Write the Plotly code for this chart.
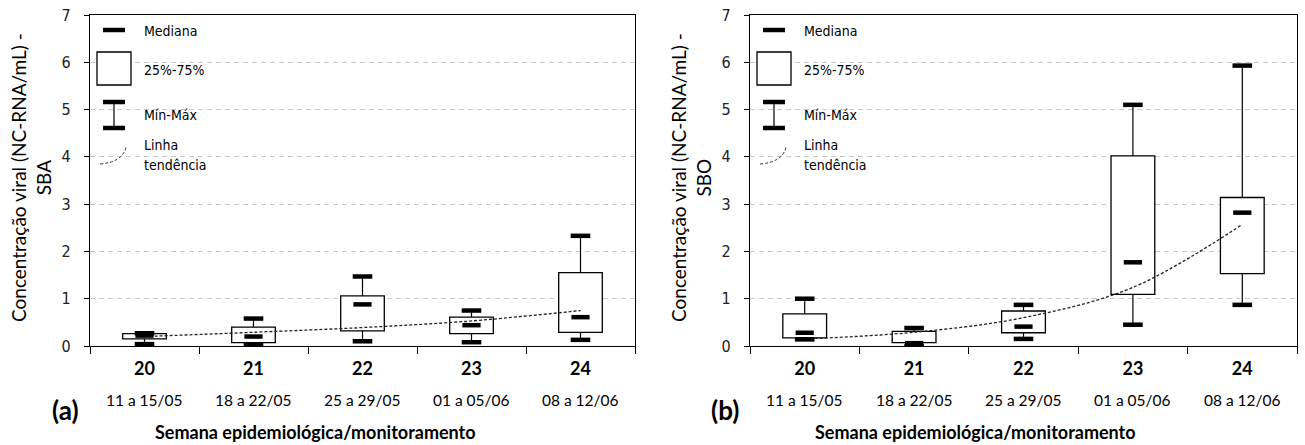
import plotly.graph_objects as go

# ---------------- data ----------------
weeks = ["20", "21", "22", "23", "24"]
periods = ["11 a 15/05", "18 a 22/05", "25 a 29/05", "01 a 05/06", "08 a 12/06"]

# (a) SBA
sba_min = [0.04, 0.02, 0.10, 0.08, 0.13]
sba_q1 = [0.15, 0.07, 0.32, 0.26, 0.29]
sba_med = [0.22, 0.20, 0.88, 0.44, 0.61]
sba_q3 = [0.26, 0.40, 1.06, 0.61, 1.55]
sba_max = [0.27, 0.58, 1.47, 0.75, 2.33]
sba_trend = [0.20, 0.29, 0.39, 0.53, 0.75]

# (b) SBO
sbo_min = [0.14, 0.00, 0.15, 0.45, 0.87]
sbo_q1 = [0.17, 0.07, 0.28, 1.09, 1.53]
sbo_med = [0.28, 0.06, 0.41, 1.77, 2.82]
sbo_q3 = [0.68, 0.31, 0.74, 4.02, 3.14]
sbo_max = [1.00, 0.38, 0.87, 5.10, 5.93]
sbo_trend = [0.15, 0.29, 0.60, 1.24, 2.57]

y_titles = ["Concentração viral (NC-RNA/mL) -<br>SBA", "Concentração viral (NC-RNA/mL) -<br>SBO"]
panel_tags = ["(a)", "(b)"]
x_title = "Semana epidemiológica/monitoramento"
legend_labels = ["Mediana", "25%-75%", "Mín-Máx", "Linha", "tendência"]

# ---------------- layout geometry (pixels) ----------------
W, H = 1305, 445
TOP, BOTTOM = 15, 346
PH = BOTTOM - TOP
panels_px = [(90, 635), (750, 1297)]

CAL = "Lato, 'Open Sans', sans-serif"
NARROW = "'DejaVu Sans Condensed', 'Liberation Sans Narrow', sans-serif"

def px(xp):
    return xp / W

def py(yp):
    return (BOTTOM - yp) / PH

fig = go.Figure()

datasets = [
    (sba_min, sba_q1, sba_med, sba_q3, sba_max, sba_trend),
    (sbo_min, sbo_q1, sbo_med, sbo_q3, sbo_max, sbo_trend),
]

for k, (mn, q1, md, q3, mx, tr) in enumerate(datasets):
    xa = "x" if k == 0 else "x2"
    ya = "y" if k == 0 else "y2"
    # box (25%-75%)
    fig.add_trace(go.Bar(
        x=weeks, base=q1, y=[b - a for a, b in zip(q1, q3)], width=0.4,
        marker=dict(color="white", line=dict(color="black", width=1.3)),
        xaxis=xa, yaxis=ya, showlegend=False, hoverinfo="skip"))
    # whiskers
    wx, wy = [], []
    for i, w in enumerate(weeks):
        wx += [w, w, None, w, w, None]
        wy += [mn[i], q1[i], None, q3[i], mx[i], None]
    fig.add_trace(go.Scatter(x=wx, y=wy, mode="lines",
                             line=dict(color="black", width=1.2),
                             xaxis=xa, yaxis=ya, showlegend=False, hoverinfo="skip"))
    # trend line
    fig.add_trace(go.Scatter(x=weeks, y=tr, mode="lines",
                             line=dict(color="#222", width=1.3, dash="3px,2px", shape="spline"),
                             xaxis=xa, yaxis=ya, showlegend=False, hoverinfo="skip"))
    # min/max caps
    fig.add_trace(go.Scatter(x=weeks + weeks, y=mn + mx, mode="markers",
                             marker=dict(symbol="line-ew", size=14,
                                         line=dict(color="black", width=4.5)),
                             xaxis=xa, yaxis=ya, showlegend=False, hoverinfo="skip"))
    # medians
    fig.add_trace(go.Scatter(x=weeks, y=md, mode="markers",
                             marker=dict(symbol="line-ew", size=13,
                                         line=dict(color="black", width=4.5)),
                             xaxis=xa, yaxis=ya, showlegend=False, hoverinfo="skip"))

annotations = []
shapes = []

for k, (x0, x1) in enumerate(panels_px):
    xa = "x" if k == 0 else "x2"
    # date labels under week numbers (category index positions)
    for i, p in enumerate(periods):
        annotations.append(dict(x=i, y=py(400), xref=xa, yref="paper", text=p,
                                showarrow=False, xanchor="center", yanchor="middle",
                                font=dict(family=CAL, size=15.5, color="black")))
    # y title
    annotations.append(dict(x=px(x0 - 59), y=py(178), xref="paper", yref="paper",
                            text=y_titles[k], textangle=-90, showarrow=False,
                            xanchor="center", yanchor="middle",
                            font=dict(family=CAL, size=19, color="black")))
    # panel tag
    annotations.append(dict(x=px(x0 - 25), y=py(410), xref="paper", yref="paper",
                            text="<b>%s</b>" % panel_tags[k], showarrow=False,
                            xanchor="center", yanchor="middle",
                            font=dict(family=CAL, size=26, color="black")))
    # x title
    annotations.append(dict(x=px(x0 + 225), y=py(432), xref="paper", yref="paper",
                            text="<b>%s</b>" % x_title, showarrow=False,
                            xanchor="center", yanchor="middle",
                            font=dict(family=CAL, size=18, color="black")))
    # legend
    lx = x0
    for txt, yy in zip(legend_labels, [31, 70, 115, 145, 165]):
        annotations.append(dict(x=px(lx + 52), y=py(yy), xref="paper", yref="paper",
                                text=txt, showarrow=False, xanchor="left", yanchor="middle",
                                font=dict(family=NARROW, size=14, color="black")))
    blk = dict(color="black", width=4.5)
    shapes.append(dict(type="line", xref="paper", yref="paper",
                       x0=px(lx + 13), x1=px(lx + 35), y0=py(30), y1=py(30), line=blk))
    shapes.append(dict(type="rect", xref="paper", yref="paper",
                       x0=px(lx + 7), x1=px(lx + 41), y0=py(52), y1=py(85),
                       line=dict(color="black", width=1.3), fillcolor="white"))
    shapes.append(dict(type="line", xref="paper", yref="paper",
                       x0=px(lx + 13), x1=px(lx + 35), y0=py(102), y1=py(102), line=blk))
    shapes.append(dict(type="line", xref="paper", yref="paper",
                       x0=px(lx + 13), x1=px(lx + 35), y0=py(128), y1=py(128), line=blk))
    shapes.append(dict(type="line", xref="paper", yref="paper",
                       x0=px(lx + 24), x1=px(lx + 24), y0=py(102), y1=py(128),
                       line=dict(color="black", width=1.2)))
    shapes.append(dict(type="path", xref="paper", yref="paper",
                       path="M %f %f Q %f %f %f %f" % (px(lx + 10), py(164), px(lx + 33), py(162),
                                                      px(lx + 36), py(147)),
                       line=dict(color="#333", width=1, dash="3px,2px")))

axis_common_x = dict(type="category", range=[-0.5, 4.5], tickson="boundaries",
                     ticks="outside", ticklen=7, tickcolor="black", tickwidth=1.2,
                     showline=True, linecolor="black", linewidth=1.2, mirror=True,
                     showgrid=False, ticklabelstandoff=6,
                     tickfont=dict(family=CAL, size=18, color="black", weight="bold"))
axis_common_y = dict(range=[0, 7], dtick=1, tick0=0, ticks="outside", ticklen=5,
                     tickcolor="black", showline=True, linecolor="black", linewidth=1.2,
                     mirror=True, showgrid=True, gridcolor="#c8c8c8", griddash="5px,4px",
                     gridwidth=1, zeroline=False, ticklabelstandoff=10,
                     tickfont=dict(family=NARROW, size=16, color="#222"))

fig.update_layout(
    width=W, height=H,
    margin=dict(l=0, r=0, t=TOP, b=H - BOTTOM),
    paper_bgcolor="white", plot_bgcolor="white",
    showlegend=False, barmode="overlay",
    xaxis=dict(domain=[px(panels_px[0][0]), px(panels_px[0][1])], anchor="y", **axis_common_x),
    xaxis2=dict(domain=[px(panels_px[1][0]), px(panels_px[1][1])], anchor="y2", **axis_common_x),
    yaxis=dict(domain=[0, 1], anchor="x", **axis_common_y),
    yaxis2=dict(domain=[0, 1], anchor="x2", **axis_common_y),
    annotations=annotations, shapes=shapes,
)

fig.write_html("out.html", config={"displayModeBar": False},
               post_script="document.body.style.margin='0';document.body.style.overflow='hidden';")
